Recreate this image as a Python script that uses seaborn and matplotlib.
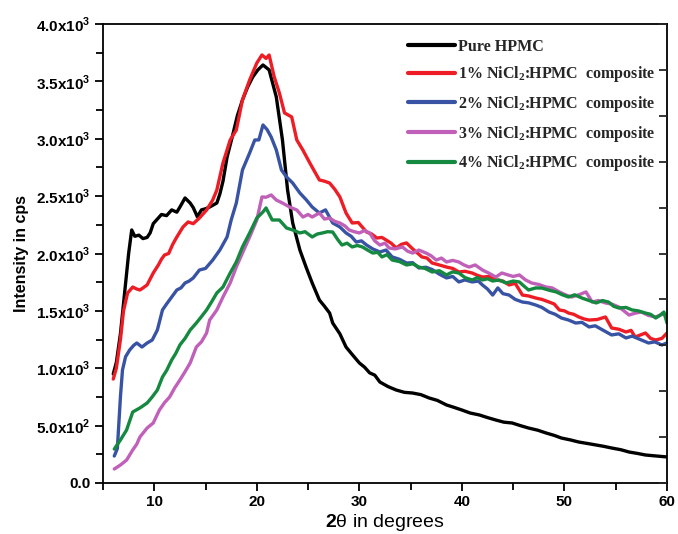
import matplotlib
matplotlib.use("Agg")
import matplotlib.pyplot as plt
import seaborn as sns
import pandas as pd
from matplotlib.ticker import MultipleLocator, FixedLocator

sns.set_style("ticks")
plt.rcParams['font.family'] = ['Liberation Sans', 'DejaVu Sans']
plt.rcParams['mathtext.fontset'] = 'custom'
plt.rcParams['mathtext.rm'] = 'Liberation Serif:bold'
plt.rcParams['mathtext.bf'] = 'Liberation Sans:bold'

# ---------------- data ----------------
series_names = ["Pure HPMC", "1% NiCl$_{\\mathrm{2}}$:HPMC  composite",
                "2% NiCl$_{\\mathrm{2}}$:HPMC  composite",
                "3% NiCl$_{\\mathrm{2}}$:HPMC  composite",
                "4% NiCl$_{\\mathrm{2}}$:HPMC  composite"]
series_colors = ["#000000", "#ee1c24", "#3953a4", "#c060b8", "#14893f"]

pure_hpmc = [(6.0, 950), (6.3, 1050), (6.7, 1300), (7.1, 1650), (7.5, 2000), (7.8, 2205),
             (8.1, 2150), (8.5, 2160), (8.9, 2130), (9.3, 2140), (9.6, 2180), (9.9, 2260),
             (10.3, 2300), (10.7, 2340), (11.2, 2330), (11.7, 2380), (12.2, 2360), (12.6, 2420),
             (13.0, 2484), (13.5, 2440), (13.8, 2400), (14.2, 2320), (14.6, 2380), (15.0, 2390),
             (15.4, 2405), (16.1, 2440), (16.4, 2520), (16.7, 2630), (17.1, 2840), (17.6, 3015),
             (18.1, 3200), (18.6, 3338), (19.1, 3450), (19.6, 3538), (20.1, 3600), (20.6, 3643),
             (21.2, 3600), (21.9, 3364), (22.5, 2989), (23.0, 2553), (23.5, 2266), (24.2, 2030),
             (24.8, 1882), (25.4, 1743), (26.1, 1595), (26.6, 1540), (27.1, 1481), (27.4, 1394),
             (28.1, 1300), (28.7, 1185), (29.3, 1120), (30.0, 1046), (30.5, 1010), (31.0, 960),
             (31.5, 940), (32.0, 880), (32.8, 840), (33.6, 810), (34.4, 790), (35.2, 784),
             (36.0, 770), (36.8, 741), (37.6, 720), (38.5, 680), (39.2, 660), (40.0, 636),
             (40.8, 610), (41.7, 593), (42.5, 570), (43.3, 549), (44.1, 530), (44.9, 523),
             (45.7, 500), (46.5, 479), (47.4, 460), (48.2, 436), (49.0, 415), (49.7, 392),
             (50.6, 375), (51.4, 357), (52.2, 345), (53.1, 331), (53.8, 320), (54.6, 305),
             (55.5, 290), (56.3, 270), (57.1, 258), (57.9, 244), (59.0, 235), (60.0, 227)]

nicl_1 = [(6.0, 906), (6.3, 1000), (6.7, 1250), (7.0, 1500), (7.4, 1656), (7.9, 1708),
          (8.3, 1690), (8.6, 1682), (8.9, 1700), (9.3, 1726), (9.9, 1830), (10.4, 1900),
          (10.7, 1950), (11.0, 1987), (11.4, 2000), (11.8, 2080), (12.2, 2144), (12.8, 2231),
          (13.3, 2275), (13.8, 2260), (14.4, 2309), (15.1, 2379), (15.7, 2466), (16.1, 2553),
          (16.7, 2789), (17.4, 2989), (18.0, 3076), (18.6, 3338), (19.3, 3512), (20.0, 3660),
          (20.5, 3730), (20.9, 3700), (21.2, 3730), (21.7, 3538), (22.2, 3399), (22.7, 3225),
          (23.4, 3190), (23.9, 2989), (24.5, 2900), (25.1, 2800), (25.6, 2720), (26.1, 2641),
          (26.6, 2630), (27.1, 2614), (27.6, 2560), (28.1, 2493), (28.7, 2353), (29.3, 2266),
          (29.9, 2270), (30.7, 2187), (31.2, 2170), (31.7, 2135), (32.2, 2140), (32.6, 2118),
          (33.1, 2090), (33.6, 2048), (34.1, 2080), (34.6, 2092), (35.2, 2040), (36.1, 1970),
          (36.6, 1960), (37.1, 1917), (37.8, 1900), (38.5, 1882), (39.1, 1870), (39.7, 1839),
          (40.3, 1845), (41.0, 1830), (41.5, 1810), (42.0, 1795), (42.7, 1800), (43.3, 1769),
          (44.0, 1760), (44.6, 1726), (45.2, 1740), (45.9, 1638), (46.5, 1630), (47.2, 1612),
          (47.8, 1600), (48.5, 1577), (49.0, 1560), (49.5, 1508), (50.0, 1500), (50.4, 1481),
          (50.9, 1470), (51.4, 1447), (51.9, 1430), (52.4, 1420), (53.2, 1425), (54.0, 1447),
          (54.6, 1351), (55.3, 1340), (56.0, 1316), (56.5, 1330), (56.9, 1272), (57.4, 1290),
          (57.9, 1307), (58.4, 1260), (58.9, 1246), (59.5, 1260), (60.0, 1307)]

nicl_2 = [(6.1, 235), (6.4, 300), (6.7, 750), (6.9, 985), (7.2, 1100), (7.6, 1159),
          (8.0, 1200), (8.3, 1220), (8.8, 1185), (9.3, 1220), (9.8, 1246), (10.3, 1333),
          (10.8, 1508), (11.2, 1560), (11.7, 1621), (12.2, 1682), (12.6, 1700), (13.0, 1743),
          (13.4, 1760), (13.8, 1787), (14.4, 1856), (15.0, 1870), (15.7, 1943), (16.4, 2031),
          (17.1, 2144), (17.5, 2292), (18.0, 2440), (18.6, 2728), (19.3, 2876), (19.8, 2989),
          (20.2, 2990), (20.6, 3120), (21.0, 3080), (21.4, 3015), (21.9, 2902), (22.4, 2728),
          (22.9, 2667), (23.5, 2614), (24.2, 2527), (24.8, 2470), (25.4, 2405), (26.1, 2353),
          (26.7, 2380), (27.4, 2266), (28.1, 2231), (28.7, 2179), (29.2, 2150), (29.7, 2100),
          (30.2, 2110), (30.7, 2074), (31.3, 2040), (32.0, 2013), (32.6, 2030), (33.2, 1970),
          (33.9, 1950), (34.6, 1917), (35.2, 1920), (35.8, 1874), (36.5, 1880), (37.1, 1860),
          (37.8, 1820), (38.5, 1787), (39.1, 1800), (39.7, 1752), (40.3, 1770), (41.0, 1752),
          (41.6, 1760), (42.0, 1726), (42.5, 1690), (43.0, 1638), (43.5, 1700), (44.0, 1650),
          (44.6, 1638), (45.2, 1600), (45.9, 1577), (46.5, 1570), (47.2, 1551), (47.8, 1530),
          (48.5, 1490), (49.1, 1470), (49.7, 1438), (50.4, 1420), (51.1, 1394), (51.7, 1400),
          (52.4, 1360), (53.0, 1370), (53.6, 1340), (54.6, 1290), (55.3, 1300), (56.0, 1264),
          (56.6, 1280), (57.4, 1250), (58.2, 1220), (58.8, 1230), (59.5, 1203), (60.0, 1220)]

nicl_3 = [(6.1, 122), (6.7, 157), (7.3, 200), (7.9, 288), (8.3, 340), (8.6, 401),
          (9.3, 479), (9.9, 523), (10.5, 636), (11.0, 700), (11.5, 750), (12.0, 830),
          (12.5, 898), (13.0, 970), (13.5, 1046), (14.1, 1185), (14.6, 1230), (15.1, 1307),
          (15.4, 1420), (16.1, 1508), (16.7, 1621), (17.4, 1743), (18.0, 1882), (18.6, 2004),
          (19.3, 2144), (20.0, 2292), (20.5, 2493), (20.9, 2490), (21.4, 2510), (21.9, 2466),
          (22.5, 2440), (23.2, 2405), (23.9, 2379), (24.5, 2318), (25.0, 2340), (25.4, 2318),
          (26.1, 2353), (26.6, 2300), (27.1, 2309), (27.6, 2280), (28.1, 2266), (28.6, 2240),
          (29.0, 2205), (29.5, 2190), (30.0, 2179), (30.5, 2200), (31.0, 2179), (31.5, 2110),
          (32.0, 2074), (32.5, 2090), (32.9, 2048), (33.5, 2040), (34.2, 2057), (34.7, 2020),
          (35.2, 2004), (35.8, 2030), (36.5, 2004), (37.0, 1980), (37.5, 1943), (38.0, 1960),
          (38.5, 1926), (39.1, 1940), (39.7, 1926), (40.2, 1900), (40.7, 1882), (41.3, 1900),
          (42.0, 1856), (42.6, 1830), (43.3, 1795), (43.9, 1830), (44.5, 1813), (45.0, 1800),
          (45.6, 1813), (46.2, 1770), (46.8, 1743), (47.5, 1730), (48.2, 1708), (48.8, 1700),
          (49.5, 1665), (50.1, 1640), (50.7, 1621), (51.4, 1640), (52.1, 1665), (52.7, 1577),
          (53.3, 1590), (54.0, 1569), (54.6, 1560), (55.3, 1534), (55.8, 1500), (56.3, 1464),
          (56.9, 1480), (57.5, 1490), (58.2, 1460), (58.9, 1447), (59.5, 1470), (60.0, 1464)]

nicl_4 = [(6.1, 296), (6.7, 375), (7.3, 462), (7.9, 619), (8.6, 654), (9.3, 697),
          (9.8, 750), (10.3, 810), (10.8, 924), (11.2, 980), (11.7, 1072), (12.1, 1130),
          (12.5, 1203), (13.0, 1260), (13.5, 1333), (14.1, 1394), (14.6, 1450), (15.1, 1508),
          (15.6, 1580), (16.1, 1656), (16.7, 1708), (17.4, 1830), (18.0, 1926), (18.6, 2057),
          (19.3, 2179), (20.0, 2309), (20.6, 2362), (20.9, 2397), (21.5, 2292), (22.2, 2292),
          (22.9, 2222), (23.5, 2205), (24.2, 2179), (24.7, 2190), (25.4, 2144), (25.9, 2170),
          (26.4, 2179), (26.9, 2190), (27.4, 2187), (27.9, 2120), (28.3, 2074), (28.8, 2090),
          (29.3, 2057), (29.8, 2070), (30.3, 2057), (30.8, 2030), (31.3, 2004), (31.8, 2010),
          (32.2, 1970), (32.7, 1990), (33.2, 1943), (33.9, 1930), (34.6, 1900), (35.2, 1910),
          (35.8, 1882), (36.4, 1870), (37.1, 1839), (37.8, 1850), (38.5, 1813), (39.1, 1840),
          (39.7, 1830), (40.3, 1790), (41.0, 1769), (41.5, 1790), (42.0, 1769), (42.5, 1780),
          (43.0, 1760), (43.6, 1770), (44.3, 1743), (45.0, 1760), (45.6, 1752), (46.0, 1720),
          (46.5, 1682), (47.2, 1700), (47.8, 1699), (48.5, 1680), (49.2, 1665), (49.8, 1640),
          (50.4, 1621), (51.0, 1640), (51.7, 1612), (52.4, 1590), (53.1, 1569), (53.7, 1590),
          (54.3, 1577), (54.8, 1540), (55.3, 1525), (56.0, 1530), (56.6, 1508), (57.2, 1500),
          (57.9, 1481), (58.4, 1470), (58.9, 1438), (59.3, 1460), (59.7, 1490), (60.0, 1394)]

y_tick_values = [0, 500, 1000, 1500, 2000, 2500, 3000, 3500, 4000]
y_tick_labels = ["0.0", "5.0x10$^{\\mathbf{2}}$", "1.0x10$^{\\mathbf{3}}$",
                 "1.5x10$^{\\mathbf{3}}$", "2.0x10$^{\\mathbf{3}}$", "2.5x10$^{\\mathbf{3}}$",
                 "3.0x10$^{\\mathbf{3}}$", "3.5x10$^{\\mathbf{3}}$", "4.0x10$^{\\mathbf{3}}$"]
x_tick_values = [10, 20, 30, 40, 50, 60]

# ---------------- build long table ----------------
rows = []
for name, pts in zip(series_names, [pure_hpmc, nicl_1, nicl_2, nicl_3, nicl_4]):
    for x, y in pts:
        rows.append({"series": name, "x": x, "y": y})
df = pd.DataFrame(rows)

fig = plt.figure(figsize=(6.78, 5.34), dpi=100)
ax = fig.add_axes([103/678, 1 - 483/534, (667 - 103)/678, (483 - 24)/534])

sns.lineplot(data=df, x="x", y="y", hue="series", hue_order=series_names,
             palette=series_colors, estimator=None, sort=False, linewidth=2.4,
             ax=ax, legend=True)

ax.set_xlim(5, 60)
ax.set_ylim(0, 4000)

for sp in ax.spines.values():
    sp.set_linewidth(1.3)
    sp.set_color("black")
    sp.set_visible(True)

ax.xaxis.set_major_locator(FixedLocator(x_tick_values))
ax.xaxis.set_minor_locator(MultipleLocator(5))
ax.set_yticks(y_tick_values)
ax.set_yticklabels(y_tick_labels)
ax.yaxis.set_minor_locator(MultipleLocator(250))
ax.tick_params(axis="both", which="major", direction="out", length=6, width=1.3,
               labelsize=11, pad=3, top=False, right=False, color="black")
ax.tick_params(axis="both", which="minor", direction="out", length=5, width=1.3,
               top=False, right=False, color="black")
for lbl in ax.get_xticklabels() + ax.get_yticklabels():
    lbl.set_fontweight("bold")
    lbl.set_color("black")

# right-side inward ticks
ax_r = ax.twinx()
ax_r.set_ylim(0, 4000)
ax_r.yaxis.set_major_locator(MultipleLocator(400))
ax_r.tick_params(axis="y", direction="in", length=6, width=1.3, labelright=False)
for sp in ax_r.spines.values():
    sp.set_visible(False)

ax.set_xlabel("$\\mathbf{2}$\u03b8 in degrees", fontsize=14, labelpad=2, color="black")
ax.set_ylabel("Intensity in cps", fontsize=11.5, fontweight="bold", labelpad=5, color="black")

leg = ax.legend(loc="upper left", bbox_to_anchor=(0.527, 0.985), frameon=False,
                handlelength=2.9, handletextpad=0.2, labelspacing=0.6, borderpad=0,
                prop={"family": "Liberation Serif", "weight": "bold", "size": 11.5})
for line in leg.get_lines():
    line.set_linewidth(3)

fig.savefig("out.png", dpi=100)
